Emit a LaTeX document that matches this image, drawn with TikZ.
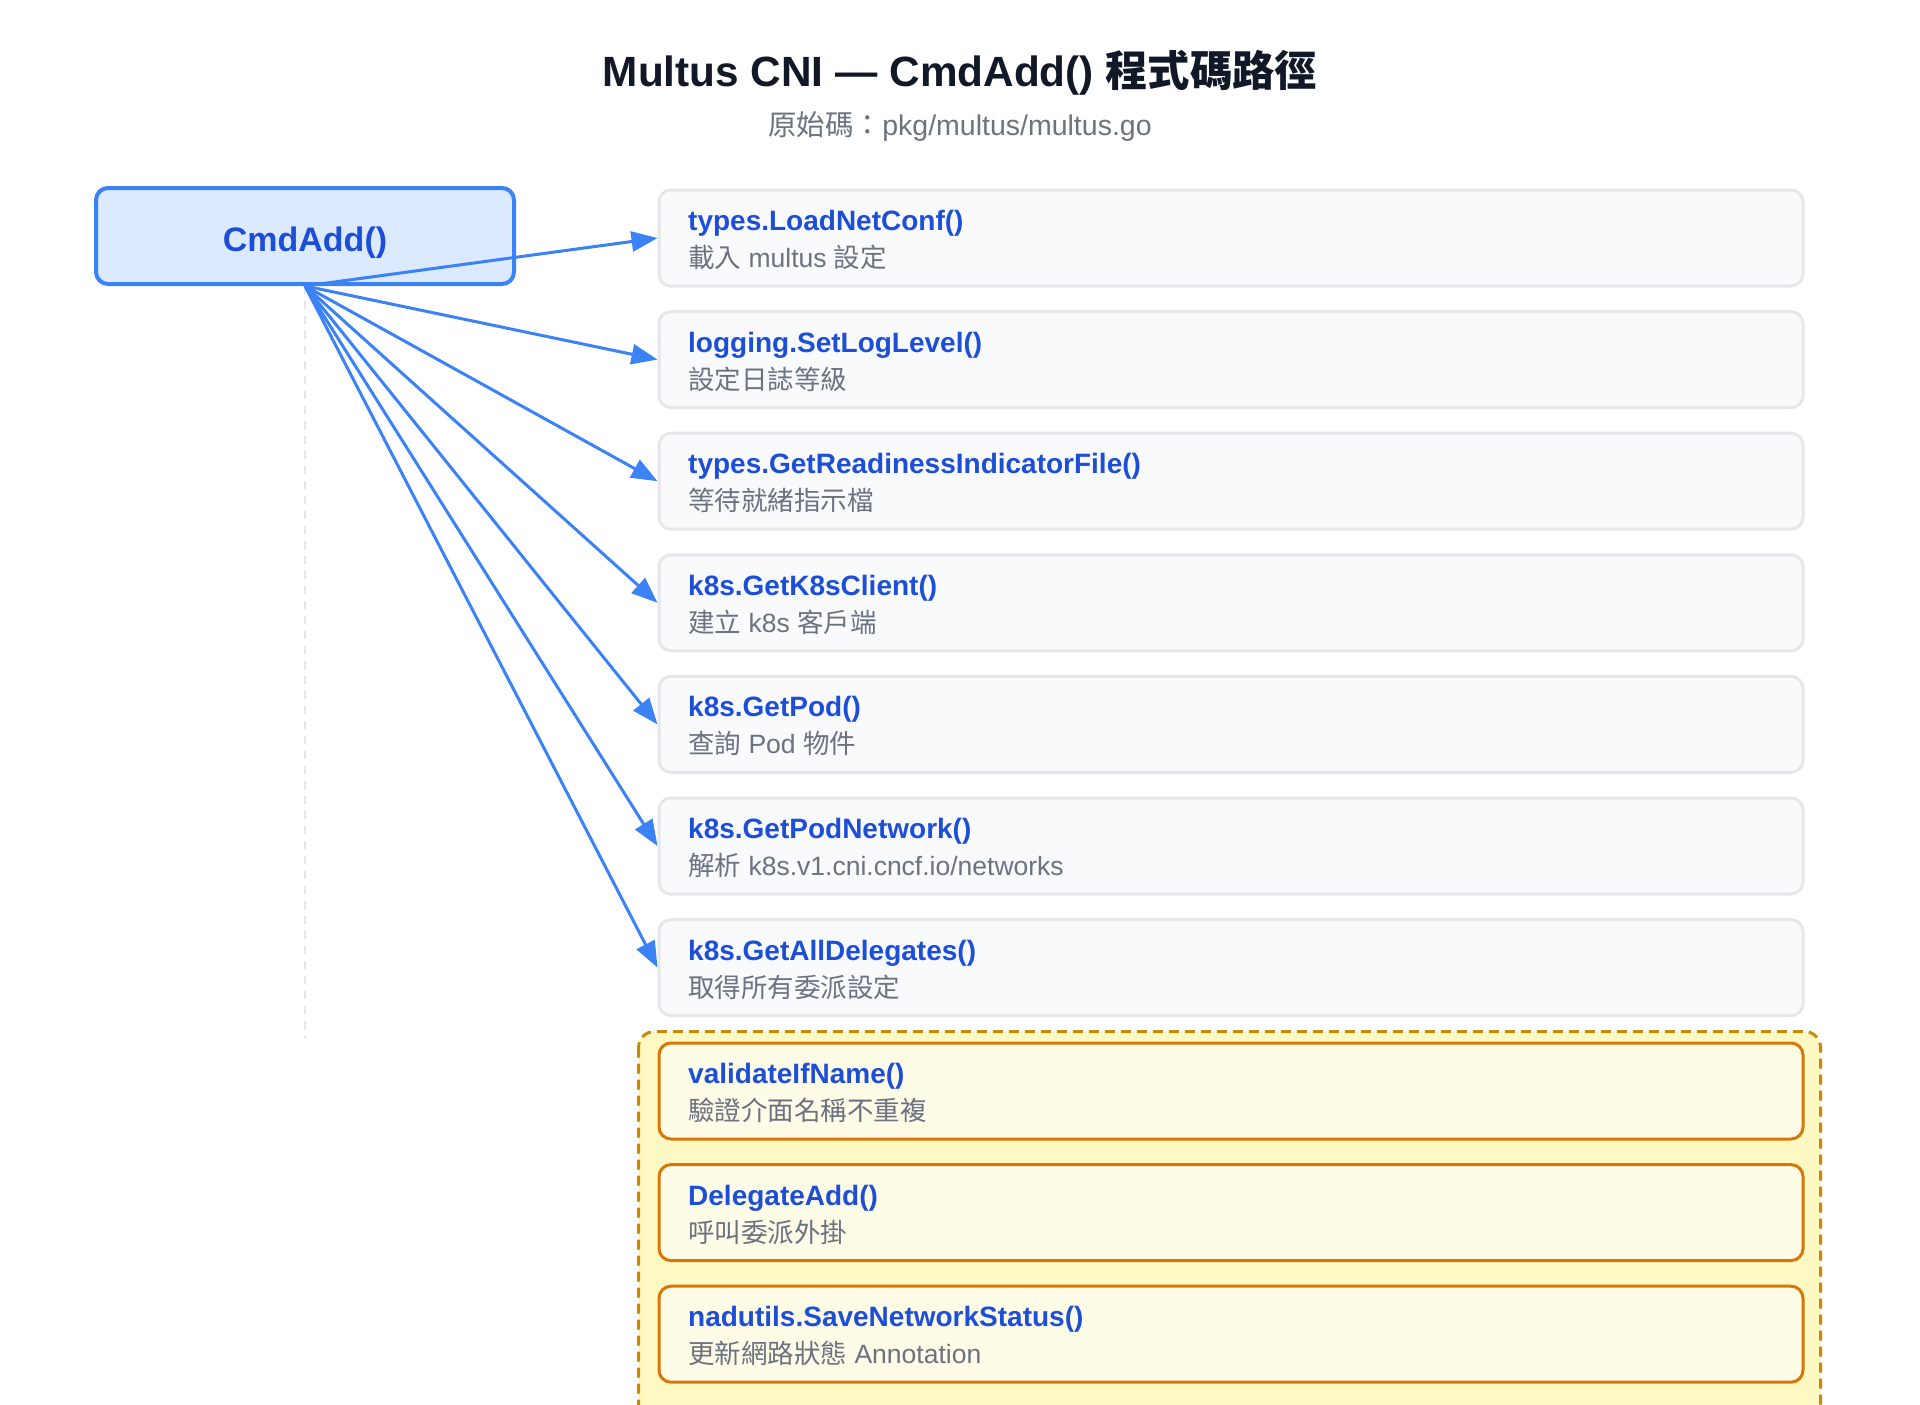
\documentclass[tikz,border=0pt]{standalone}
\usepackage{fontspec}
\setmainfont{Liberation Sans}
\newfontfamily\cjk{Noto Sans CJK TC}
\usetikzlibrary{arrows.meta}
\definecolor{blueline}{HTML}{3B82F6}
\definecolor{bluefill}{HTML}{DBEAFE}
\definecolor{bluetext}{HTML}{1D4ED8}
\definecolor{graytext}{HTML}{6B7280}
\definecolor{grayborder}{HTML}{E5E7EB}
\definecolor{grayfill}{HTML}{F8FAFC}
\definecolor{titletext}{HTML}{111827}
\definecolor{amberdash}{HTML}{CA8A04}
\definecolor{yellowfill}{HTML}{FEF9C3}
\definecolor{orangeb}{HTML}{D97706}
\definecolor{cream}{HTML}{FEFBE6}
\tikzset{
  gbox/.style={draw=grayborder, fill=grayfill, line width=3pt, rounded corners=12pt,
    minimum width=1144pt, minimum height=96pt, anchor=north west, inner sep=0pt},
  obox/.style={gbox, draw=orangeb, fill=cream},
  fname/.style={anchor=base west, inner sep=0pt, text=bluetext,
    font=\fontsize{28}{32}\selectfont\bfseries},
  fdesc/.style={anchor=base west, inner sep=0pt, text=graytext,
    font=\fontsize{26.5}{30}\selectfont},
  arr/.style={draw=blueline, line width=3pt, -{Triangle[length=26pt,width=20pt]}},
  mainbox/.style={draw=blueline, fill=bluefill, line width=4pt, rounded corners=12pt,
    minimum width=418pt, minimum height=96pt, inner sep=0pt},
  maintext/.style={anchor=base, inner sep=0pt, text=bluetext,
    font=\fontsize{34}{40}\selectfont\bfseries},
}
\newcommand\callbox[5]{%
  \node[#3] (#1) at (657.5,#2) {};
  \node[fname] (#1n) at (688,#2+42) {#4};
  \node[fdesc] (#1d) at (688,#2+79) {#5};
}
\begin{document}
\begin{tikzpicture}[x=1pt,y=-1pt]
\useasboundingbox (0,0) rectangle (1920,1405);
\fill[white] (0,0) rectangle (1920,1405);

\node[anchor=base, inner sep=0pt, text=titletext, font=\fontsize{42.3}{50}\selectfont\bfseries]
  (title) at (960,86) {Multus CNI — CmdAdd() {\cjk 程式碼路徑}};
\node[anchor=base, inner sep=0pt, text=graytext, font=\fontsize{28.5}{34}\selectfont]
  (subtitle) at (960,135) {{\cjk 原始碼：}pkg/multus/multus.go};

% group
\begin{scope}
\clip (0,0) rectangle (1920,1405);
\fill[yellowfill, rounded corners=16pt] (638.5,1031.5) rectangle (1820.5,1450);
\draw[amberdash, line width=3pt, dash pattern=on 10pt off 6pt, rounded corners=16pt]
  (638.5,1031.5) rectangle (1820.5,1450);
\end{scope}

\callbox{b1}{188.5}{gbox}{types.LoadNetConf()}{{\cjk 載入} multus {\cjk 設定}}
\callbox{b2}{310.1}{gbox}{logging.SetLogLevel()}{{\cjk 設定日誌等級}}
\callbox{b3}{431.7}{gbox}{types.GetReadinessIndicatorFile()}{{\cjk 等待就緒指示檔}}
\callbox{b4}{553.3}{gbox}{k8s.GetK8sClient()}{{\cjk 建立} k8s {\cjk 客戶端}}
\callbox{b5}{674.9}{gbox}{k8s.GetPod()}{{\cjk 查詢} Pod {\cjk 物件}}
\callbox{b6}{796.5}{gbox}{k8s.GetPodNetwork()}{{\cjk 解析} k8s.v1.cni.cncf.io/networks}
\callbox{b7}{918.1}{gbox}{k8s.GetAllDelegates()}{{\cjk 取得所有委派設定}}
\callbox{b8}{1041.5}{obox}{validateIfName()}{{\cjk 驗證介面名稱不重複}}
\callbox{b9}{1163.1}{obox}{DelegateAdd()}{{\cjk 呼叫委派外掛}}
\callbox{b10}{1284.7}{obox}{nadutils.SaveNetworkStatus()}{{\cjk 更新網路狀態} Annotation}

\node[mainbox] (cmd) at (305,236) {};
\node[maintext] (cmdt) at (305,251) {CmdAdd()};

\coordinate (dashend) at (305,1038);
\draw[grayborder, line width=2pt, dash pattern=on 8pt off 7pt] (cmd.south) -- (dashend);

\foreach \b in {b1,b2,b3,b4,b5,b6,b7}{
  \draw[arr] (cmd.south) -- (\b.west);
}
\end{tikzpicture}
\end{document}
